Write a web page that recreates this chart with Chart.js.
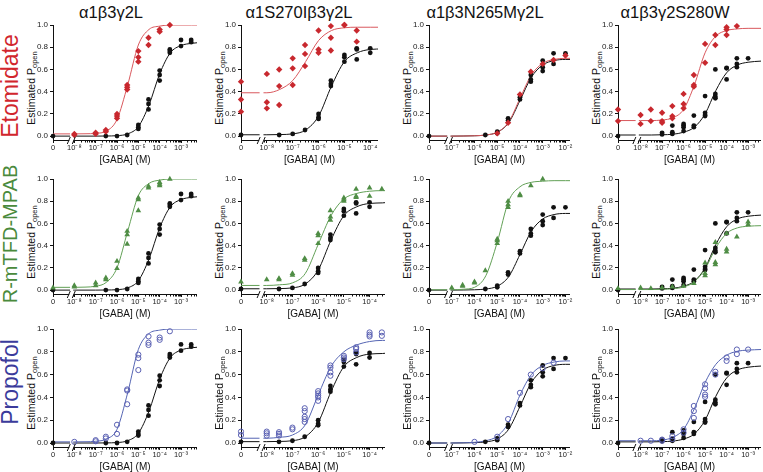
<!DOCTYPE html>
<html>
<head>
<meta charset="utf-8">
<script src="https://cdn.jsdelivr.net/npm/chart.js@4"></script>
<style>
  body { margin: 0; background: #fff; }
  #fig { position: relative; width: 763px; height: 472px; overflow: hidden;
         font-family: "Liberation Sans", Arial, sans-serif; color: #111; }
  #fig canvas { position: absolute; }
  .col-title { position: absolute; top: 3px; font-size: 16.5px; line-height: 18px;
               transform: translateX(-50%); white-space: nowrap; }
  .row-label { position: absolute; font-size: 23px; white-space: nowrap;
               transform: translate(-50%, -50%) rotate(-90deg); }
  .y-title { position: absolute; font-size: 10.5px; white-space: nowrap;
             transform: translate(-50%, -50%) rotate(-90deg); }
  .y-title sub { font-size: 7.5px; vertical-align: -2px; }
</style>
</head>
<body>
<div id="fig"></div>
<script>
// ---------- labels ----------
const receptors = ["α1β3γ2L", "α1S270Iβ3γ2L", "α1β3N265Mγ2L", "α1β3γ2S280W"];
const drugs = ["Etomidate", "R-mTFD-MPAB", "Propofol"];
const pOpenTicks = [0, 0.2, 0.4, 0.6, 0.8, 1.0];

// ---------- log10 [GABA] where the fitted curves were read ----------
const fitLogA = [-8, -7.5, -7, -6.5, -6, -5.5, -5, -4.5, -4, -3.5, -3, -2.5, -2.25];
const fitLogB = [-8, -7.5, -7, -6.5, -6, -5.5, -5, -4.5, -4, -3.5, -3.4];
const fitLogC = [-7, -6.5, -6, -5.5, -5, -4.5, -4, -3.5, -3, -2.5, -2, -1.8];
const fitLogD = [-8, -7.5, -7, -6.5, -6, -5.5, -5, -4.5, -4, -3.5, -3, -2.4];

// ---------- GABA alone (black), one set per receptor ----------
const ctrlConcA = [0, 3e-7, 1e-6, 3e-6, 1e-5, 1e-5, 1e-5, 3e-5, 3e-5, 3e-5, 1e-4, 1e-4, 1e-4, 3e-4, 3e-4, 3e-4, 1e-3, 1e-3, 3e-3, 3e-3];
const ctrlPA    = [0.0, 0.0, 0.0, 0.01, 0.10, 0.08, 0.065, 0.33, 0.29, 0.24, 0.59, 0.55, 0.50, 0.78, 0.765, 0.75, 0.865, 0.81, 0.865, 0.845];
const ctrlFitA  = [0.0, 0.0, 0.0, 0.001, 0.004, 0.02, 0.085, 0.28, 0.56, 0.75, 0.815, 0.835, 0.84];

const ctrlConcB = [0, 3e-8, 1e-7, 3e-7, 1e-6, 1e-6, 1e-6, 3e-6, 3e-6, 3e-6, 1e-5, 1e-5, 1e-5, 3e-5, 3e-5, 3e-5, 1e-4, 1e-4];
const ctrlPB    = [0.01, 0.01, 0.02, 0.055, 0.2, 0.17, 0.155, 0.5, 0.47, 0.45, 0.73, 0.71, 0.67, 0.79, 0.78, 0.69, 0.79, 0.75];
const ctrlFitB  = [0.012, 0.014, 0.02, 0.055, 0.18, 0.45, 0.67, 0.75, 0.78, 0.785, 0.787];

const ctrlConcC = [0, 3e-6, 1e-5, 1e-5, 3e-5, 3e-5, 1e-4, 1e-4, 3e-4, 3e-4, 3e-4, 1e-3, 1e-3, 1e-3, 3e-3, 3e-3, 1e-2];
const ctrlPC    = [0.0, 0.01, 0.04, 0.025, 0.16, 0.14, 0.35, 0.33, 0.55, 0.51, 0.49, 0.68, 0.62, 0.585, 0.745, 0.65, 0.745];
const ctrlFitC  = [0.0, 0.001, 0.003, 0.01, 0.035, 0.12, 0.32, 0.53, 0.64, 0.68, 0.69, 0.69];

const ctrlConcD = [0, 1e-7, 1e-7, 3e-7, 3e-7, 3e-7, 1e-6, 1e-6, 1e-6, 1e-6, 3e-6, 3e-6, 3e-6, 1e-5, 1e-5, 1e-5, 1e-5, 3e-5, 3e-5, 3e-5, 3e-5, 1e-4, 1e-4, 1e-4, 3e-4, 3e-4, 3e-4, 1e-3];
const ctrlPD    = [0.0, 0.03, 0.015, 0.095, 0.035, 0.02, 0.11, 0.095, 0.08, 0.045, 0.185, 0.095, 0.08, 0.36, 0.21, 0.19, 0.18, 0.6, 0.38, 0.355, 0.34, 0.615, 0.61, 0.51, 0.7, 0.65, 0.62, 0.7];
const ctrlFitD  = [0.01, 0.01, 0.012, 0.017, 0.035, 0.08, 0.2, 0.41, 0.57, 0.64, 0.665, 0.675];

// ---------- GABA + etomidate (red) ----------
const etoConcA = [1e-8, 1e-8, 1e-7, 1e-7, 3e-7, 3e-7, 1e-6, 1e-6, 1e-6, 3e-6, 3e-6, 3e-6, 1e-5, 1e-5, 1e-5, 3e-5, 3e-5, 1e-4, 1e-4, 3e-4];
const etoPA    = [0.01, 0.02, 0.02, 0.03, 0.055, 0.04, 0.2, 0.18, 0.16, 0.46, 0.44, 0.42, 0.765, 0.71, 0.67, 0.885, 0.82, 0.96, 0.94, 1.0];
const etoFitA  = [0.02, 0.021, 0.025, 0.045, 0.15, 0.46, 0.82, 0.96, 0.99, 1.0, 1.0, 1.0, 1.0];

const etoConcB = [0, 0, 0, 1e-8, 1e-8, 1e-8, 3e-8, 3e-8, 3e-8, 1e-7, 1e-7, 1e-7, 3e-7, 3e-7, 3e-7, 1e-6, 1e-6, 1e-6, 3e-6, 3e-6, 3e-6, 1e-5, 1e-5, 3e-5, 3e-5];
const etoPB    = [0.49, 0.33, 0.22, 0.56, 0.305, 0.25, 0.6, 0.45, 0.28, 0.7, 0.61, 0.46, 0.82, 0.74, 0.63, 0.95, 0.78, 0.75, 0.99, 0.885, 0.77, 1.0, 1.0, 0.95, 0.85];
const etoFitB  = [0.39, 0.42, 0.5, 0.67, 0.86, 0.95, 0.975, 0.98, 0.98, 0.98, 0.98];

const etoConcC = [1e-5, 3e-5, 1e-4, 3e-4, 1e-3, 3e-3, 1e-2];
const etoPC    = [0.025, 0.12, 0.375, 0.58, 0.65, 0.685, 0.725];
const etoFitC  = [0.0, 0.001, 0.003, 0.01, 0.035, 0.125, 0.34, 0.55, 0.655, 0.69, 0.70, 0.70];

const etoConcD = [0, 0, 1e-8, 1e-8, 3e-8, 3e-8, 1e-7, 1e-7, 1e-7, 3e-7, 3e-7, 3e-7, 1e-6, 1e-6, 1e-6, 3e-6, 3e-6, 3e-6, 1e-5, 1e-5, 3e-5, 3e-5, 1e-4, 1e-4, 1e-4, 3e-4];
const etoPD    = [0.24, 0.135, 0.19, 0.11, 0.24, 0.135, 0.21, 0.135, 0.12, 0.27, 0.18, 0.16, 0.38, 0.29, 0.25, 0.55, 0.46, 0.445, 0.83, 0.66, 0.91, 0.82, 0.98, 0.96, 0.91, 0.99];
const etoFitD  = [0.14, 0.14, 0.145, 0.165, 0.24, 0.46, 0.75, 0.9, 0.95, 0.965, 0.97, 0.97];

// ---------- GABA + R-mTFD-MPAB (green) ----------
const mpabConcA = [0, 1e-8, 1e-8, 1e-7, 1e-7, 3e-7, 3e-7, 1e-6, 1e-6, 3e-6, 3e-6, 3e-6, 1e-5, 1e-5, 1e-5, 3e-5, 3e-5, 1e-4, 1e-4, 1e-4, 3e-4];
const mpabPA    = [0.02, 0.04, 0.03, 0.065, 0.04, 0.11, 0.095, 0.26, 0.195, 0.53, 0.5, 0.415, 0.83, 0.815, 0.715, 0.935, 0.92, 0.97, 0.955, 0.94, 1.0];
const mpabFitA  = [0.025, 0.027, 0.035, 0.07, 0.2, 0.53, 0.85, 0.96, 0.99, 1.0, 1.0, 1.0, 1.0];

const mpabConcB = [0, 1e-8, 3e-8, 3e-8, 1e-7, 1e-7, 3e-7, 3e-7, 1e-6, 1e-6, 1e-6, 3e-6, 3e-6, 3e-6, 1e-5, 1e-5, 1e-5, 3e-5, 3e-5, 3e-5, 1e-4, 1e-4, 3e-4];
const mpabPB    = [0.075, 0.095, 0.105, 0.095, 0.15, 0.135, 0.285, 0.27, 0.51, 0.49, 0.42, 0.715, 0.66, 0.63, 0.83, 0.815, 0.8, 0.91, 0.845, 0.835, 0.92, 0.845, 0.91];
const mpabFitB  = [0.042, 0.048, 0.065, 0.15, 0.41, 0.67, 0.82, 0.87, 0.89, 0.895, 0.895];

const mpabConcC = [1e-7, 3e-7, 3e-7, 1e-6, 1e-6, 3e-6, 1e-5, 1e-5, 1e-5, 3e-5, 3e-5, 3e-5, 1e-4, 1e-4, 3e-4, 1e-3];
const mpabPC    = [0.02, 0.045, 0.035, 0.075, 0.065, 0.175, 0.46, 0.445, 0.42, 0.8, 0.77, 0.745, 0.86, 0.85, 0.94, 1.0];
const mpabFitC  = [0.003, 0.008, 0.025, 0.13, 0.43, 0.8, 0.93, 0.97, 0.98, 0.985, 0.985, 0.985];

const mpabConcD = [0, 1e-8, 3e-8, 1e-7, 3e-7, 1e-6, 3e-6, 1e-5, 1e-5, 1e-5, 3e-5, 3e-5, 3e-5, 1e-4, 1e-4, 1e-4, 3e-4, 1e-3, 1e-3];
const mpabPD    = [0.015, 0.02, 0.015, 0.02, 0.03, 0.035, 0.06, 0.245, 0.15, 0.13, 0.43, 0.25, 0.23, 0.51, 0.37, 0.345, 0.48, 0.615, 0.59];
const mpabFitD  = [0.005, 0.005, 0.007, 0.012, 0.028, 0.075, 0.19, 0.38, 0.51, 0.56, 0.575, 0.58];

// ---------- GABA + propofol (blue, open) ----------
const propConcA = [1e-8, 1e-7, 1e-7, 3e-7, 3e-7, 1e-6, 1e-6, 3e-6, 3e-6, 3e-6, 1e-5, 1e-5, 1e-5, 3e-5, 3e-5, 3e-5, 1e-4, 1e-4, 3e-4];
const propPA    = [0.01, 0.025, 0.015, 0.055, 0.04, 0.16, 0.08, 0.47, 0.46, 0.34, 0.775, 0.745, 0.64, 0.935, 0.88, 0.86, 0.925, 0.905, 0.98];
const propFitA  = [0.01, 0.011, 0.015, 0.035, 0.12, 0.44, 0.82, 0.96, 0.99, 1.0, 1.0, 1.0, 1.0];

const propConcB = [0, 0, 1e-8, 1e-8, 1e-8, 3e-8, 3e-8, 3e-8, 1e-7, 1e-7, 3e-7, 3e-7, 3e-7, 3e-7, 3e-7, 1e-6, 1e-6, 1e-6, 1e-6, 1e-6, 3e-6, 3e-6, 3e-6, 3e-6, 1e-5, 1e-5, 1e-5, 3e-5, 3e-5, 3e-5, 1e-4, 1e-4, 1e-4, 3e-4, 3e-4];
const propPB    = [0.1, 0.07, 0.1, 0.085, 0.065, 0.095, 0.08, 0.065, 0.135, 0.12, 0.305, 0.28, 0.23, 0.21, 0.185, 0.455, 0.435, 0.415, 0.4, 0.37, 0.68, 0.66, 0.62, 0.59, 0.765, 0.75, 0.735, 0.84, 0.825, 0.795, 0.97, 0.95, 0.935, 0.97, 0.94];
const propFitB  = [0.042, 0.05, 0.07, 0.16, 0.42, 0.67, 0.8, 0.86, 0.89, 0.9, 0.9];

const propConcC = [1e-6, 1e-5, 3e-5, 1e-4, 3e-4, 1e-3, 3e-3];
const propPC    = [0.01, 0.055, 0.21, 0.44, 0.6, 0.655, 0.705];
const propFitC  = [0.0, 0.002, 0.006, 0.02, 0.06, 0.18, 0.42, 0.6, 0.68, 0.71, 0.72, 0.72];

const propConcD = [1e-8, 3e-8, 1e-7, 1e-7, 3e-7, 3e-7, 1e-6, 1e-6, 3e-6, 3e-6, 3e-6, 1e-5, 1e-5, 1e-5, 1e-5, 3e-5, 3e-5, 1e-4, 1e-4, 3e-4, 3e-4, 1e-3];
const propPD    = [0.02, 0.02, 0.03, 0.02, 0.06, 0.035, 0.12, 0.09, 0.325, 0.28, 0.22, 0.515, 0.48, 0.425, 0.405, 0.625, 0.6, 0.75, 0.72, 0.82, 0.78, 0.82];
const propFitD  = [0.02, 0.02, 0.025, 0.05, 0.12, 0.3, 0.53, 0.69, 0.77, 0.805, 0.815, 0.82];

// ---------- layout ----------
// per column: plot left/right (px) and the broken log axis (log10 units)
const colLayout = [
  { L: 53,  R: 197, zero: -9,    brk: -8.12, max: -2.25, decades: [-8, -7, -6, -5, -4, -3], fitLog: fitLogA },
  { L: 241, R: 385, zero: -9,    brk: -8.2,  max: -3.4,  decades: [-8, -7, -6, -5, -4],     fitLog: fitLogB },
  { L: 429, R: 570, zero: -8,    brk: -7.12, max: -1.8,  decades: [-7, -6, -5, -4, -3, -2], fitLog: fitLogC },
  { L: 618, R: 761, zero: -9.05, brk: -8.15, max: -2.4,  decades: [-8, -7, -6, -5, -4, -3], fitLog: fitLogD }
];
// per row: y of P=1.0 and bottom of the plot (x axis line)
const rowLayout = [ { T: 25, B: 140 }, { T: 179, B: 294 }, { T: 329, B: 447 } ];

const ctrlSets = [
  { conc: ctrlConcA, p: ctrlPA, fit: ctrlFitA },
  { conc: ctrlConcB, p: ctrlPB, fit: ctrlFitB },
  { conc: ctrlConcC, p: ctrlPC, fit: ctrlFitC },
  { conc: ctrlConcD, p: ctrlPD, fit: ctrlFitD }
];
const drugSets = [
  [ { conc: etoConcA, p: etoPA, fit: etoFitA }, { conc: etoConcB, p: etoPB, fit: etoFitB },
    { conc: etoConcC, p: etoPC, fit: etoFitC }, { conc: etoConcD, p: etoPD, fit: etoFitD } ],
  [ { conc: mpabConcA, p: mpabPA, fit: mpabFitA }, { conc: mpabConcB, p: mpabPB, fit: mpabFitB },
    { conc: mpabConcC, p: mpabPC, fit: mpabFitC }, { conc: mpabConcD, p: mpabPD, fit: mpabFitD } ],
  [ { conc: propConcA, p: propPA, fit: propFitA }, { conc: propConcB, p: propPB, fit: propFitB },
    { conc: propConcC, p: propPC, fit: propFitC }, { conc: propConcD, p: propPD, fit: propFitD } ]
];

const drugStyle = [
  { text: "#d1262d", point: "#c8282e", line: "#d9585d", shape: "rectRot", radius: 3.2, fill: true },
  { text: "#4a8a3c", point: "#4f8d45", line: "#62a056", shape: "triangle", radius: 3.3, fill: true },
  { text: "#3b3b9b", point: "#5a60b2", line: "#5565b3", shape: "circle", radius: 2.6, fill: false }
];

Chart.defaults.font.family = '"Liberation Sans", Arial, sans-serif';
Chart.defaults.color = "#111";

const SUP = { "-": "⁻", "0": "⁰", "1": "¹", "2": "²", "3": "³", "4": "⁴", "5": "⁵", "6": "⁶", "7": "⁷", "8": "⁸", "9": "⁹" };
const sup = n => String(n).split("").map(c => SUP[c]).join("");

function dots(set, ax) {
  return set.conc.map((c, i) => ({ x: c === 0 ? 10 ** ax.zero : c, y: set.p[i] }));
}
function curve(set, ax) {
  const y0 = set.fit[0];
  const pts = [
    { x: 10 ** ax.zero, y: y0 }, { x: 10 ** (ax.brk - 0.08), y: y0 },
    { x: 10 ** ax.brk, y: null },
    { x: 10 ** (ax.brk + 0.07), y: y0 }
  ];
  ax.fitLog.forEach((l, i) => pts.push({ x: 10 ** l, y: set.fit[i] }));
  return pts;
}

// axis line with the "//" break and minor log ticks
const brokenAxis = {
  id: "brokenAxis",
  afterDraw(chart, args, opts) {
    const { ctx, chartArea: a, scales: { x } } = chart;
    const bx = x.getPixelForValue(10 ** opts.brk);
    const y = Math.round(a.bottom) + 0.5;
    ctx.save();
    ctx.strokeStyle = "#111";
    ctx.lineWidth = 1;
    ctx.beginPath();
    ctx.moveTo(a.left, y); ctx.lineTo(bx - 2.5, y);
    ctx.moveTo(bx + 2.5, y); ctx.lineTo(a.right, y);
    ctx.moveTo(bx - 4.5, y + 3.5); ctx.lineTo(bx - 1.5, y - 3.5);
    ctx.moveTo(bx + 0.5, y + 3.5); ctx.lineTo(bx + 3.5, y - 3.5);
    for (let d = Math.floor(opts.brk); d <= Math.ceil(opts.max); d++) {
      for (let k = 2; k <= 9; k++) {
        const l = Math.log10(k) + d;
        if (l <= opts.brk + 0.05 || l >= opts.max) continue;
        const px = Math.round(x.getPixelForValue(10 ** l)) + 0.5;
        ctx.moveTo(px, y); ctx.lineTo(px, y + 2);
      }
    }
    ctx.stroke();
    ctx.restore();
  }
};

const fig = document.getElementById("fig");

receptors.forEach((r, ci) => {
  const d = document.createElement("div");
  d.className = "col-title";
  d.textContent = r;
  d.style.left = [111, 299, 485, 675][ci] + "px";
  fig.appendChild(d);
});
drugs.forEach((name, ri) => {
  const d = document.createElement("div");
  d.className = "row-label";
  d.textContent = name;
  d.style.color = drugStyle[ri].text;
  d.style.left = "10px";
  d.style.top = [86, 234, 382][ri] + "px";
  if (ri === 1) d.style.fontSize = "20px";
  fig.appendChild(d);
});

rowLayout.forEach((row, ri) => {
  colLayout.forEach((col, ci) => {
    const ax = Object.assign({}, col);
    let R = col.R;
    if (ri === 0 && ci === 1) { ax.max = -3.7; R = 378; }
    const st = drugStyle[ri];
    const ctrl = ctrlSets[ci];
    const drug = drugSets[ri][ci];

    const yt = document.createElement("div");
    yt.className = "y-title";
    yt.innerHTML = "Estimated P<sub>open</sub>";
    yt.style.left = (col.L - 21) + "px";
    yt.style.top = ((row.T + row.B) / 2 + 5) + "px";
    fig.appendChild(yt);

    const c = document.createElement("canvas");
    const w = (R - col.L) + 30 + 10, h = (row.B - row.T) + 8 + 30;
    c.width = w; c.height = h;
    c.style.left = (col.L - 30) + "px";
    c.style.top = (row.T - 8) + "px";
    c.style.width = w + "px"; c.style.height = h + "px";
    fig.appendChild(c);

    new Chart(c, {
      type: "scatter",
      data: {
        datasets: [
          { data: dots(drug, ax), pointStyle: st.shape, pointRadius: st.radius,
            backgroundColor: st.fill ? st.point : "rgba(0,0,0,0)", borderColor: st.point,
            borderWidth: st.fill ? 0 : 1, clip: false },
          { data: dots(ctrl, ax), pointStyle: "circle", pointRadius: 2.4,
            backgroundColor: "#111", borderWidth: 0, clip: false },
          { data: curve(drug, ax), showLine: true, pointRadius: 0, borderColor: st.line,
            borderWidth: 1, cubicInterpolationMode: "monotone", spanGaps: false },
          { data: curve(ctrl, ax), showLine: true, pointRadius: 0, borderColor: "#111",
            borderWidth: 1, cubicInterpolationMode: "monotone", spanGaps: false }
        ]
      },
      options: {
        responsive: false,
        devicePixelRatio: 1,
        animation: false,
        layout: { padding: { left: 0, top: 8, right: 10, bottom: 0 } },
        plugins: { legend: { display: false }, tooltip: { enabled: false },
                   brokenAxis: { brk: ax.brk, max: ax.max } },
        scales: {
          x: {
            type: "logarithmic",
            min: 10 ** ax.zero, max: 10 ** ax.max,
            afterBuildTicks: s => { s.ticks = [ax.zero, ...ax.decades].map(l => ({ value: 10 ** l })); },
            afterFit: s => { s.height = 30; },
            ticks: {
              autoSkip: false, maxRotation: 0, padding: 0, font: { size: 7.5 }, color: "#222",
              callback: v => {
                const l = Math.log10(v);
                return Math.abs(l - ax.zero) < 1e-6 ? "0" : "10" + sup(Math.round(l));
              }
            },
            grid: { drawOnChartArea: false, tickLength: 3, color: "#111" },
            border: { display: false },
            title: { display: true, text: "[GABA] (M)", font: { size: 10 }, padding: { top: 0, bottom: 4 }, color: "#111" }
          },
          y: {
            min: -0.035, max: 1,
            afterBuildTicks: s => { s.ticks = pOpenTicks.map(v => ({ value: v })); },
            afterFit: s => { s.width = 30; },
            ticks: { padding: 2, font: { size: 8 }, color: "#222", callback: v => v.toFixed(1) },
            grid: { drawOnChartArea: false, tickLength: 3, color: "#111" },
            border: { color: "#111", width: 1 }
          }
        }
      },
      plugins: [brokenAxis]
    });
  });
});
</script>
</body>
</html>
